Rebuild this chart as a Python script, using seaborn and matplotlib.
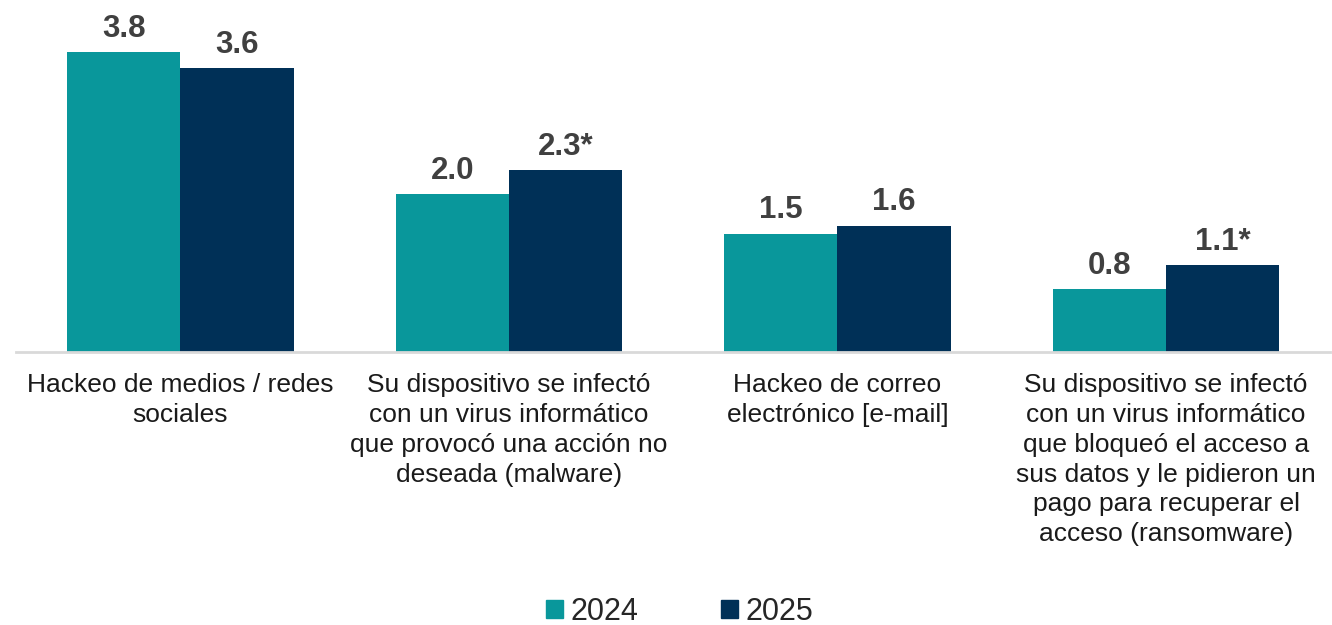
import matplotlib
matplotlib.use('Agg')
import matplotlib.pyplot as plt
import pandas as pd
import seaborn as sns

categories = [
    'Hackeo de medios / redes\nsociales',
    'Su dispositivo se infectó\ncon un virus informático\nque provocó una acción no\ndeseada (malware)',
    'Hackeo de correo\nelectrónico [e-mail]',
    'Su dispositivo se infectó\ncon un virus informático\nque bloqueó el acceso a\nsus datos y le pidieron un\npago para recuperar el\nacceso (ransomware)',
]
years = ['2024', '2025']
values_2024 = [3.8, 2.0, 1.5, 0.8]
values_2025 = [3.6, 2.3, 1.6, 1.1]
labels_2024 = ['3.8', '2.0', '1.5', '0.8']
labels_2025 = ['3.6', '2.3*', '1.6', '1.1*']

colors = {'2024': '#09979b', '2025': '#003057'}

df = pd.DataFrame({
    'categoria': categories * 2,
    'anio': [years[0]] * 4 + [years[1]] * 4,
    'valor': values_2024 + values_2025,
})

sns.set_style('white')
plt.rcParams['font.family'] = ['Liberation Sans', 'DejaVu Sans']

fig = plt.figure(figsize=(13.32, 6.25), dpi=100)
ax = fig.add_axes([0.012, 0.4368, 0.9868, 0.5632])

sns.barplot(
    data=df, x='categoria', y='valor', hue='anio',
    palette=colors, width=0.69, gap=0, saturation=1,
    errorbar=None, ax=ax, legend=False, linewidth=0,
)

for cont, labs in zip(ax.containers, [labels_2024, labels_2025]):
    ax.bar_label(cont, labels=labs, padding=6, fontsize=22.5,
                 fontweight='bold', color='#404040')

ax.set_ylim(0, 4.46)
ax.set_xlim(-0.5, 3.5)
ax.set_xlabel('')
ax.set_ylabel('')
ax.set_yticks([])
for side in ['top', 'left', 'right']:
    ax.spines[side].set_visible(False)
ax.spines['bottom'].set_color('#d9d9d9')
ax.spines['bottom'].set_linewidth(2)
ax.tick_params(axis='x', length=0, pad=15, labelsize=19, labelcolor='#1a1a1a')
for t in ax.get_xticklabels():
    t.set_linespacing(1.31)

handles = [plt.Rectangle((0, 0), 1, 1, color=colors[y]) for y in years]
fig.legend(
    handles, years, loc='center', bbox_to_anchor=(0.5105, 0.021),
    ncol=2, frameon=False, fontsize=22, handlelength=0.55, handleheight=0.55,
    handletextpad=0.25, columnspacing=2.7, borderpad=0.2,
)

fig.savefig('out.png', dpi=100)
